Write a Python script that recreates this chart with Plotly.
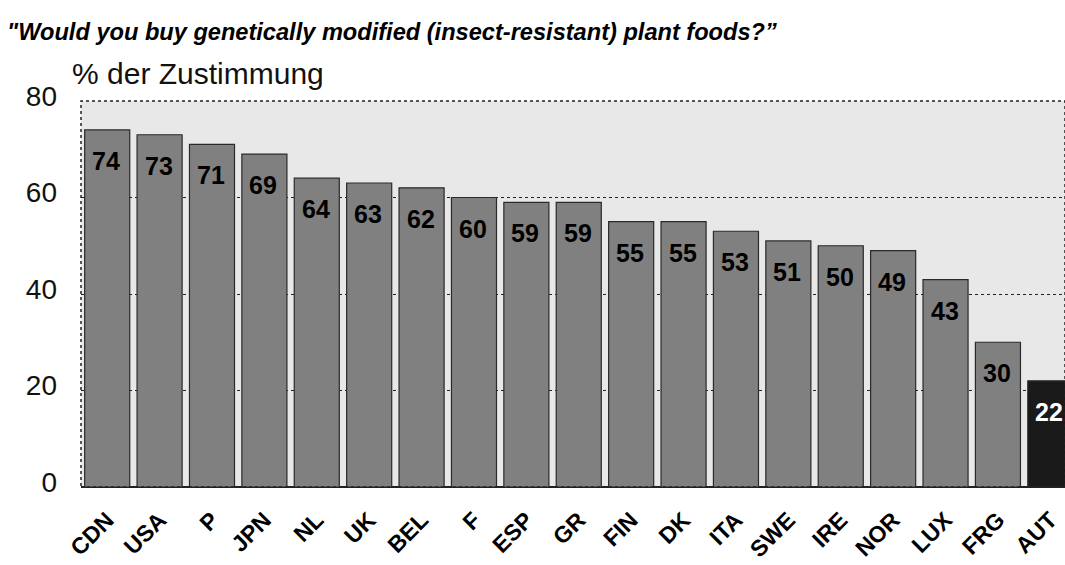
import plotly.graph_objects as go

countries = ["CDN", "USA", "P", "JPN", "NL", "UK", "BEL", "F", "ESP", "GR",
             "FIN", "DK", "ITA", "SWE", "IRE", "NOR", "LUX", "FRG", "AUT"]
values = [74, 73, 71, 69, 64, 63, 62, 60, 59, 59, 55, 55, 53, 51, 50, 49, 43, 30, 22]
y_ticks = [0, 20, 40, 60, 80]

bar_colors = ["#808080"] * (len(countries) - 1) + ["#1a1a1a"]
label_colors = ["#000000"] * (len(countries) - 1) + ["#ffffff"]

fig = go.Figure()
fig.add_trace(go.Bar(
    x=list(range(len(countries))), y=values,
    marker=dict(color=bar_colors, line=dict(color="#2a2a2a", width=1.2)),
    width=0.86, hoverinfo="skip",
))

for i, (v, c) in enumerate(zip(values, label_colors)):
    fig.add_annotation(x=i, y=v, text=f"<b>{v}</b>", showarrow=False,
                       yanchor="top", yshift=-15, xshift=-1,
                       font=dict(family="Liberation Sans, Arial", size=25, color=c))

fig.add_annotation(xref="paper", yref="paper", x=0, y=1, xanchor="left", yanchor="bottom",
                   xshift=-11, yshift=9, showarrow=False, text="% der Zustimmung",
                   font=dict(family="Liberation Sans, Arial", size=30, color="#111"))

# plot border (dotted)
fig.add_shape(type="rect", xref="paper", yref="paper", x0=0, y0=0, x1=1, y1=1,
              line=dict(color="#222", width=1.5, dash="dot"), layer="above")

fig.update_layout(
    width=1065, height=565,
    margin=dict(l=81, r=0, t=101, b=78),
    paper_bgcolor="white", plot_bgcolor="#e8e8e8",
    showlegend=False, bargap=0.14,
    title=dict(text="<b><i>\"Would you buy genetically modified (insect-resistant) plant foods?\u201d</i></b>",
               x=7/1065, xref="container", xanchor="left",
               y=1-32/565, yref="container", yanchor="middle",
               font=dict(family="Liberation Sans, Arial", size=23.6, color="#000")),
    xaxis=dict(range=[-0.5, 18.28], tickmode="array", tickvals=list(range(len(countries))),
               ticktext=[f"<b>{c}</b>" for c in countries], tickangle=-45,
               tickfont=dict(family="Liberation Sans, Arial", size=23, color="#000"),
               showgrid=False, zeroline=False, showline=False, ticks="",
               ticklabelstandoff=14),
    yaxis=dict(range=[0, 80], tickvals=y_ticks, showgrid=True, gridcolor="#222",
               griddash="dot", gridwidth=1, zeroline=True, zerolinecolor="#222", zerolinewidth=2,
               tickfont=dict(family="Liberation Sans, Arial", size=28, color="#111"),
               ticks="", ticklabelstandoff=23, ticklabelshift=-5, showline=False),
)

fig.write_html("out.html")
